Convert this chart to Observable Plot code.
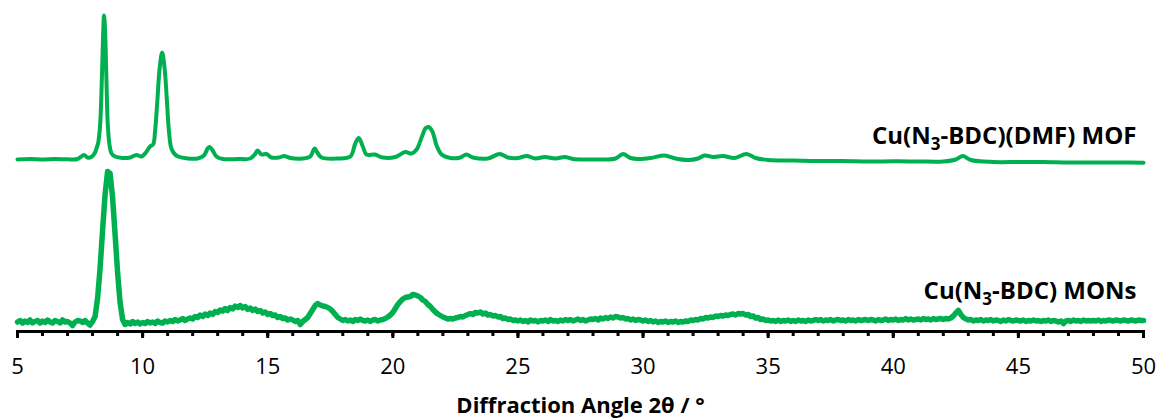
<!DOCTYPE html>
<html><head><meta charset="utf-8">
<script src="https://cdn.jsdelivr.net/npm/d3@7"></script>
<script src="https://cdn.jsdelivr.net/npm/@observablehq/plot@0.6"></script>
<style>html,body{margin:0;padding:0;background:#fff;}</style>
</head><body><div id="chart"></div>
<script>
// ---- Data (intensities in arbitrary units, traces already stacked) ----
const xTicksMajor = [5, 10, 15, 20, 25, 30, 35, 40, 45, 50];
const xTicksMinor = d3.range(5, 51, 1);
const axisTitle = "Diffraction Angle 2θ / °";
const seriesNames = ["Cu(N₃-BDC)(DMF) MOF", "Cu(N₃-BDC) MONs"];
const labelLevels = [187, 32];
const lineColor = "#00B050";

// MOF pattern: 2θ and intensity
const mofAngle = [5.0,5.5,6.0,6.5,7.0,7.4,7.66,7.8,7.95,8.1,8.18,8.22,8.30,8.37,8.42,8.46,8.50,8.55,8.61,8.68,8.76,8.9,9.2,9.5,9.75,9.95,10.1,10.3,10.42,10.5,10.59,10.68,10.78,10.88,10.97,11.05,11.15,11.3,11.42,11.8,12.2,12.45,12.6,12.68,12.8,12.95,13.2,13.8,14.3,14.48,14.6,14.75,14.95,15.15,15.45,15.65,15.9,16.4,16.7,16.82,16.88,16.98,17.15,17.8,18.3,18.5,18.64,18.8,18.95,19.28,19.6,20.1,20.5,20.75,20.95,21.15,21.3,21.43,21.58,21.75,21.95,22.3,22.7,22.94,23.2,23.8,24.27,24.6,25.0,25.34,25.7,26.07,26.5,26.87,27.2,27.8,28.5,28.9,29.2,29.5,29.8,30.3,30.86,31.3,31.8,32.2,32.46,32.8,33.2,33.66,34.13,34.5,35.0,36,37,38,39,40,41,42,42.5,42.78,43.1,44,45,46,47,48,49,50];
const mofIntensity = [171,171.5,171,171.5,171.2,171.5,175.5,173,173.5,178,184,187,205,250,295,315,300,255,205,185,177,174,172.5,173,175.5,174,177,184,186,200,230,262,278,262,230,200,182,176,174,172,172,175,182,183.5,180,174,171.5,171.5,172,176,180,176,176.5,173,173,174.5,172.5,172,174,180,182,178,173,172,174,187,192.5,184,176,176,173,173.5,178.5,177,181,193,202,203.5,199,185,176,172.5,173,176,173,172,176.5,173,172.5,174.5,172,173.5,172,173.5,171.5,171,171,172,176.5,172.5,171.5,172.5,175,172,170.5,172,175,173.5,174.5,172.5,176.5,172.5,170.5,170,169.5,169.5,169,169.2,169,169,171,174.5,170.5,168.5,168.5,168.5,168,168,168,167.7];

// MONs pattern: measured on a 0.1° grid from 5° to 50°
const monsStart = 5, monsStep = 0.1;
const monsIntensity = [
8.5,10,7.5,9.5,8,10.5,7.5,9,10,7.5,
9.5,8,10.5,8.5,7.5,10,9,7.5,10.5,8.5,
9,7.5,5,8.5,10,9.5,8,10,7.5,5.5,
9,14,32,62,100,136,159,157,133,96,
58,28,11,6,8,6.5,9,7,8.5,6.5,
8,7,9,7.5,8.5,7,9.5,8,7.5,9.5,
8.5,10,9,11,9.5,10.5,12,10,11.5,12.5,
11.5,14,13,15.5,14,16.5,15,17.5,16,19,
18,20.5,19.5,22,20,23,21.5,24.5,23,25,
22.5,24,21,22.5,20,21.5,19,20,17.5,18.5,
16,17,15,15.5,13,14,12,12.5,10.5,11.5,
10.5,9,10,6,9,11,13,17,21,25,
27,25.5,24.5,24,23,21.5,19,16,13,11.5,
10,11,9.5,10.5,9,11,10,11.5,10,9.5,
10.5,9,10.5,11,9.5,10.5,11,12,13.5,15.5,
18,22,26,29,31.5,33,33.5,34,36,35.5,
34.5,33,30.5,29,26,24,21,18.5,16.5,15,
13.5,12.5,11.5,12,11.5,12.5,13,14,13.5,15,
16,17,16,18,17.5,18.5,16.5,17.5,15.5,16,
14.5,15,13.5,14,12,12.5,11,11.5,10,10.5,
9.5,10.5,9,10,8.5,10.5,9.5,10,8.5,10,
9.5,10.5,9,11,9.5,10,9,10.5,9.5,11,
10,11,9.5,10.5,11.5,10,11,9.5,10.5,11.5,
11,12,10.5,12.5,11.5,13,12,13.5,12.5,14,
13.5,12.5,13,11.5,12,10.5,11.5,10,11,10.5,
9.5,10.5,9,10,8.5,9.5,8,9,8.5,9.5,
8,9,8.5,9.5,8,9,8.5,9.5,9,10.5,
10,11,10.5,12,11.5,13,12.5,13.5,13,14.5,
14,15,14.5,15.5,15,16,16.5,15.5,17,16.5,
17,15.5,16,14,14.5,12.5,13,11,11.5,10,
10.5,9.5,10,9,10.5,9,10,9.5,10.5,9,
10,9,10.5,9.5,10,9,10.5,9.5,10,11,
10,11,9.5,10.5,10,11,9.5,10.5,11,10,
10.5,9.5,11,10,10.5,9.5,11,10,10.5,11,
10,11,10.5,9.5,11,10,10.5,11.5,10,11,
10.5,11.5,10,11,10.5,12,10.5,11.5,10.5,11,
11.5,10.5,12,11,11.5,10.5,12,11,11.5,12,
11,12,11.5,12.5,14.5,17.5,20,16,13,11.5,
10.5,11,9.5,10.5,10,11,9.5,10.5,10,11,
9.5,10.5,10,9,10.5,9.5,11,10,9.5,10.5,
10,9.5,10.5,9,10,9.5,10.5,9.5,10,9,
10,9.5,10.5,9,10,9.5,8.5,9.5,7,9.5,
10,9,10.5,9.5,10,9,10.5,9.5,10,9.5,
10,9.5,10.5,9,10,9.5,10.5,10,9.5,10.5,
10,9.5,10.5,10,9.5,10.5,10,9.5,10.5,10,
10];

// ---- Build tables ----
const mof = mofAngle.map((a, i) => ({angle: a, intensity: mofIntensity[i]}));
const mons = monsIntensity.map((v, i) => ({angle: +(monsStart + i * monsStep).toFixed(2), intensity: v}));
const labels = seriesNames.map((name, i) => ({name, level: labelLevels[i]}));

const chart = Plot.plot({
  width: 1160,
  height: 419,
  marginTop: 0,
  marginBottom: 88,
  marginLeft: 17,
  marginRight: 17,
  style: {fontFamily: "'Open Sans', sans-serif", fontSize: "22px", color: "#000", background: "#fff"},
  x: {domain: [5, 50], label: null},
  y: {domain: [-1, 330], axis: null},
  marks: [
    Plot.line(mons, {x: "angle", y: "intensity", stroke: lineColor, strokeWidth: 5.5, strokeLinejoin: "round"}),
    Plot.line(mof, {x: "angle", y: "intensity", stroke: lineColor, strokeWidth: 4, strokeLinejoin: "round", curve: "catmull-rom"}),
    Plot.axisX(xTicksMinor, {tickSize: 5, strokeWidth: 3, tickFormat: () => "", label: null}),
    Plot.axisX(xTicksMajor, {tickSize: 7, strokeWidth: 3, tickPadding: 20, fontSize: 22, label: null}),
    Plot.frame({anchor: "bottom", strokeWidth: 3}),
    Plot.text(labels, {x: () => 50, y: "level", text: "name", textAnchor: "end", lineAnchor: "bottom", dx: -7, fontSize: 24, fontWeight: "bold"}),
    Plot.text([axisTitle], {frameAnchor: "bottom", dy: 81, lineAnchor: "bottom", fontSize: 22, fontWeight: "bold"})
  ]
});
document.getElementById("chart").appendChild(chart);

// Render the "₃" as a proper subscript using tspans
const ns = "http://www.w3.org/2000/svg";
chart.querySelectorAll("text").forEach(t => {
  const s = t.textContent;
  const i = s.indexOf("₃");
  if (i < 0) return;
  t.textContent = "";
  const a = document.createElementNS(ns, "tspan"); a.textContent = s.slice(0, i);
  const b = document.createElementNS(ns, "tspan"); b.textContent = "3";
  b.setAttribute("dy", "6"); b.setAttribute("font-size", "17");
  const c = document.createElementNS(ns, "tspan"); c.textContent = s.slice(i + 1);
  c.setAttribute("dy", "-6");
  t.append(a, b, c);
});
</script>
</body></html>
